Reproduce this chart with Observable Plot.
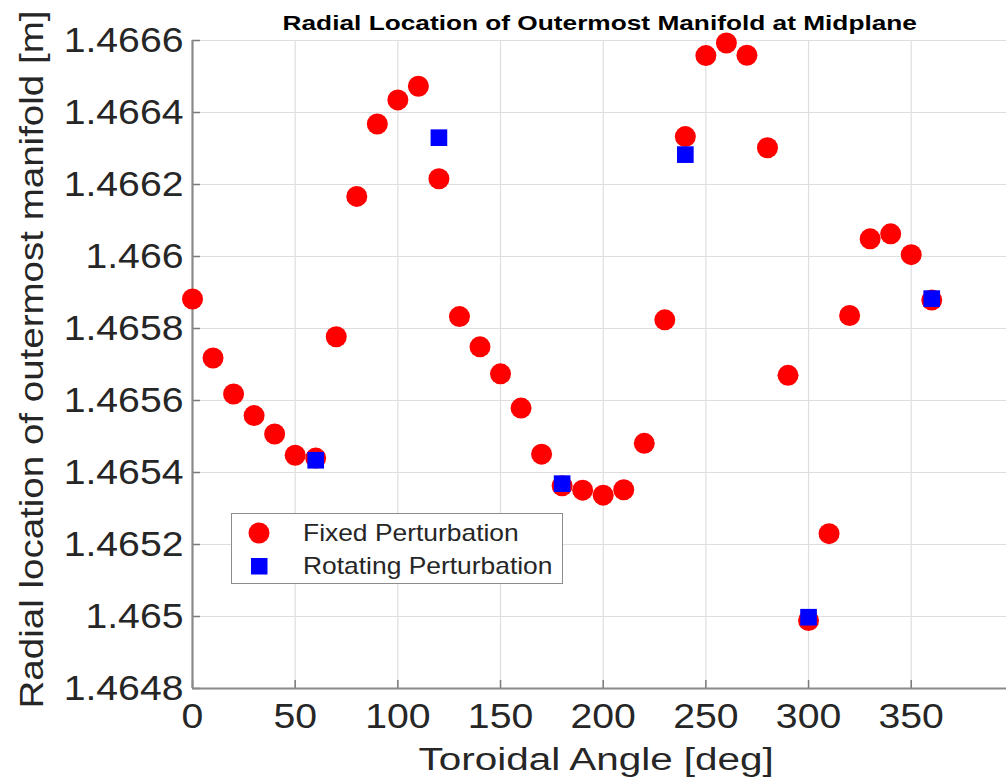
<!DOCTYPE html>
<html>
<head>
<meta charset="utf-8">
<script src="https://cdn.jsdelivr.net/npm/d3@7"></script>
<script src="https://cdn.jsdelivr.net/npm/@observablehq/plot@0.6"></script>
<style>
  html, body { margin: 0; padding: 0; background: #fff; }
  #chart { position: relative; width: 1006px; height: 783px; overflow: hidden;
    font-family: "Liberation Sans", Arial, sans-serif; color: #262626; }
  .lbl { position: absolute; white-space: nowrap; line-height: 1; }
  #title { font-size: 21px; font-weight: bold; color: #000; }
  #xlabel { font-size: 31px; }
  #ylabel { font-size: 33px; }
  #legend {
    position: absolute; left: 231px; top: 513px; width: 330px; height: 69px;
    border: 1.5px solid #8c8c8c; background: #fff; font-size: 24px;
  }
  #legend .row { position: absolute; left: 0; height: 30px; display: flex; align-items: center; }
  #legend svg { margin-left: 16px; margin-right: 33px; }
  #legend span { display: inline-block; transform: scaleX(1.1); transform-origin: left center; }
</style>
</head>
<body>
<div id="chart"></div>
<script>
// Toroidal angles (deg) of the fixed-perturbation scan
const angles = [0, 10, 20, 30, 40, 50, 60, 70, 80, 90, 100, 110, 120, 130, 140, 150, 160, 170, 180,
  190, 200, 210, 220, 230, 240, 250, 260, 270, 280, 290, 300, 310, 320, 330, 340, 350, 360];
// Radial location of the outermost manifold at the midplane [m], fixed perturbation
const fixedR = [1.465882, 1.465718, 1.465618, 1.465558, 1.465507, 1.465448, 1.465440, 1.465777,
  1.466167, 1.466368, 1.466435, 1.466473, 1.466216, 1.465833, 1.465749, 1.465674, 1.465579,
  1.465451, 1.465363, 1.465351, 1.465337, 1.465352, 1.465481, 1.465824, 1.466333, 1.466558,
  1.466593, 1.466559, 1.466302, 1.465670, 1.464989, 1.465230, 1.465836, 1.466049, 1.466063,
  1.466005, 1.465879];
// Rotating perturbation, sampled every 60 deg
const rotAngles = [60, 120, 180, 240, 300, 360];
const rotR = [1.465434, 1.466330, 1.465369, 1.466283, 1.464998, 1.465883];

const xTicks = [0, 50, 100, 150, 200, 250, 300, 350];
const yTicks = [1.4648, 1.4650, 1.4652, 1.4654, 1.4656, 1.4658, 1.4660, 1.4662, 1.4664, 1.4666];

const titleText = "Radial Location of Outermost Manifold at Midplane";
const xLabel = "Toroidal Angle [deg]";
const yLabel = "Radial location of outermost manifold [m]";
const legendLabels = ["Fixed Perturbation", "Rotating Perturbation"];

const fixedData = angles.map((a, i) => ({angle: a, r: fixedR[i]}));
const rotData = rotAngles.map((a, i) => ({angle: a, r: rotR[i]}));

const W = 1006, H = 783, mT = 40, mB = 95, mL = 192, mR = 0;
const innerH = H - mT - mB;
const ink = "#262626";

const chart = Plot.plot({
  width: W, height: H,
  marginTop: mT, marginBottom: mB, marginLeft: mL, marginRight: mR,
  style: {fontFamily: "Liberation Sans, Arial, sans-serif", background: "#fff", overflow: "visible"},
  x: {domain: [0, 396.4], ticks: xTicks},
  y: {domain: [1.4648, 1.4666], ticks: yTicks},
  marks: [
    Plot.gridX(xTicks, {stroke: "#dedede", strokeOpacity: 1, strokeWidth: 1.2}),
    Plot.gridY(yTicks, {stroke: "#dedede", strokeOpacity: 1, strokeWidth: 1.2}),
    // inward tick marks
    Plot.tickX(xTicks, {x: d => d, insetTop: innerH - 8, stroke: "#7a7a7a", strokeWidth: 1.5}),
    Plot.tickY(yTicks, {y: d => d, insetRight: (W - mL - mR) - 8, stroke: "#7a7a7a", strokeWidth: 1.5}),
    // axis lines
    Plot.ruleX([0], {stroke: "#8a8a8a", strokeWidth: 2.2}),
    Plot.ruleY([1.4648], {stroke: "#8a8a8a", strokeWidth: 2.2}),
    Plot.axisX(xTicks, {tickSize: 0, tickPadding: 15, fontSize: 35, fill: ink, label: null}),
    Plot.axisY(yTicks, {tickSize: 0, tickPadding: 9, fontSize: 35, fill: ink, label: null,
      tickFormat: d3.format(".4~f")}),
    // data
    Plot.dot(fixedData, {x: "angle", y: "r", r: 10.5, fill: "#ff0000", stroke: "none"}),
    Plot.dot(rotData, {x: "angle", y: "r", r: 9.4, symbol: "square", fill: "#0000ff", stroke: "none"})
  ]
});

// widen the tick-label typeface slightly, as in the original figure export
function stretch(textEl, s) {
  const t = textEl.getAttribute("transform");
  if (t) {
    textEl.setAttribute("transform", t + ` scale(${s},1)`);
  } else {
    const x = +textEl.getAttribute("x") || 0, y = +textEl.getAttribute("y") || 0;
    textEl.setAttribute("transform", `translate(${x},${y}) scale(${s},1) translate(${-x},${-y})`);
  }
}
chart.querySelectorAll('g[aria-label="x-axis tick label"] text, g[aria-label="y-axis tick label"] text')
  .forEach(t => stretch(t, 1.12));

const host = document.getElementById("chart");
host.appendChild(chart);

// title and axis labels: centre point, baseline-ish placement and target run length
function addLabel(id, text, cx, cy, length, rotate) {
  const el = document.createElement("div");
  el.className = "lbl";
  el.id = id;
  el.textContent = text;
  host.appendChild(el);
  const w = el.offsetWidth, h = el.offsetHeight;
  const s = length / w;
  el.style.left = (cx - w / 2) + "px";
  el.style.top = (cy - h / 2) + "px";
  el.style.transform = `rotate(${rotate}deg) scaleX(${s})`;
  el.style.transformOrigin = "50% 50%";
}
addLabel("title", titleText, 600, 22, 635, 0);
addLabel("xlabel", xLabel, 596, 759, 355, 0);
addLabel("ylabel", yLabel, 32, 359, 698, -90);

// legend box inside the axes
const legend = document.createElement("div");
legend.id = "legend";
const swatches = [
  `<svg width="22" height="22"><circle cx="11" cy="11" r="10.5" fill="#ff0000"/></svg>`,
  `<svg width="22" height="22"><rect x="3" y="3" width="16.5" height="16.5" fill="#0000ff"/></svg>`
];
legendLabels.forEach((lab, i) => {
  const row = document.createElement("div");
  row.className = "row";
  row.style.top = (4 + i * 33) + "px";
  row.innerHTML = swatches[i] + `<span>${lab}</span>`;
  legend.appendChild(row);
});
host.appendChild(legend);
</script>
</body>
</html>
